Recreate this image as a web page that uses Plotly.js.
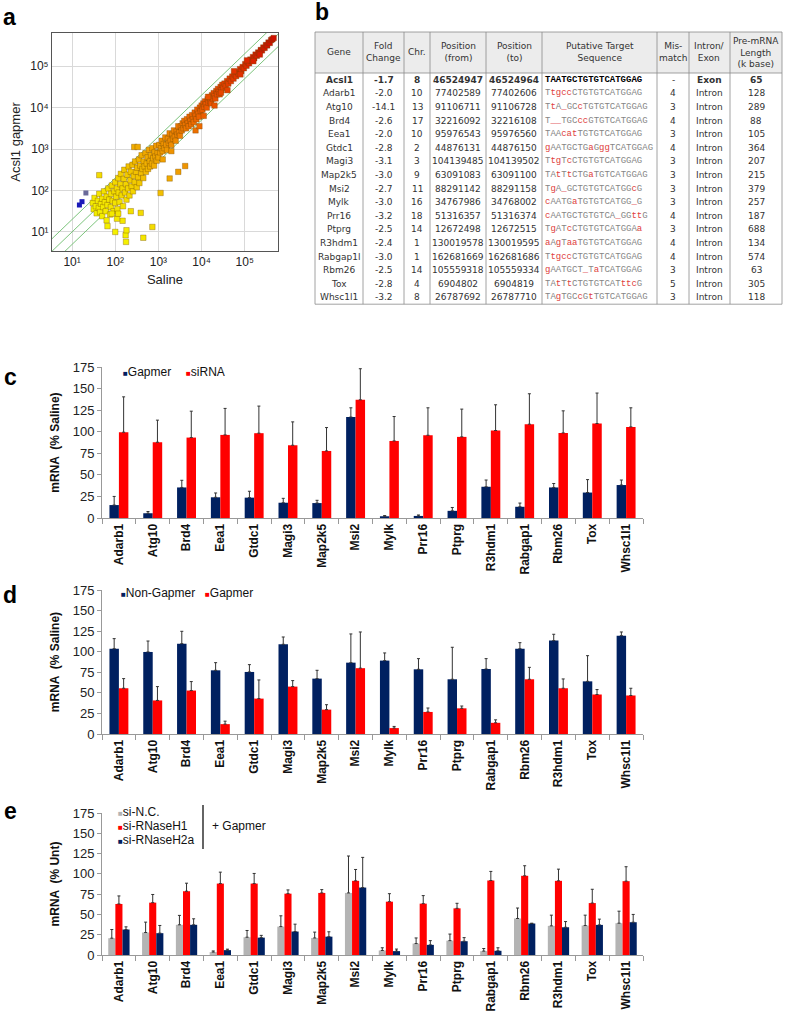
<!DOCTYPE html>
<html><head><meta charset="utf-8">
<script src="https://cdn.plot.ly/plotly-3.0.1.min.js"></script>
<style>html,body{margin:0;padding:0;background:#fff}#chart{width:787px;height:1013px}</style>
</head><body><div id="chart"></div><script>
const W = 787, H = 1013;

// ---------------- Panel a: scatter (log10 intensities) ----------------
const salineLog = [1.48,1.50,1.52,1.55,1.57,1.60,1.62,1.63,1.65,1.67,1.70,1.70,1.72,1.74,1.76,1.78,1.80,1.80,1.82,1.84,1.86,1.88,1.90,1.90,1.92,1.94,1.96,1.98,2.00,2.00,
2.02,2.04,2.05,2.07,2.08,2.10,2.12,2.13,2.15,2.17,2.18,2.20,2.21,2.23,2.25,2.26,2.28,2.30,2.31,2.33,2.35,2.36,2.38,2.40,2.41,2.43,2.45,2.46,2.48,2.50,
2.51,2.53,2.55,2.56,2.58,2.60,2.61,2.63,2.65,2.66,2.68,2.70,2.71,2.73,2.75,2.76,2.78,2.80,2.81,2.83,2.85,2.86,2.88,2.90,2.91,2.93,2.95,2.96,2.98,3.00,
3.02,3.04,3.06,3.08,3.10,3.12,3.14,3.16,3.18,3.20,3.22,3.24,3.26,3.28,3.30,3.32,3.34,3.36,3.38,3.40,3.42,3.44,3.46,3.48,3.50,
3.52,3.54,3.56,3.58,3.60,3.62,3.64,3.66,3.68,3.70,3.72,3.74,3.76,3.78,3.80,3.82,3.84,3.86,3.88,3.90,3.92,3.94,3.96,3.98,4.00,
4.02,4.04,4.06,4.08,4.10,4.12,4.14,4.16,4.18,4.20,4.22,4.24,4.26,4.28,4.30,4.32,4.34,4.36,4.38,4.40,4.42,4.44,4.46,4.48,4.50,
4.53,4.56,4.59,4.62,4.65,4.68,4.71,4.74,4.77,4.80,4.83,4.86,4.89,4.92,4.95,4.98,
5.01,5.04,5.07,5.10,5.13,5.16,5.19,5.22,5.25,5.28,5.31,5.34,5.37,5.40,5.43,5.46,5.49,5.52,5.55,5.58,5.61,5.64,5.67,
3.86,3.95,4.05,4.60,4.30,3.30,3.10,4.75,4.90,5.05,5.20,5.35,4.45,4.15,
2.65,2.86,2.25,2.24,2.00,1.82,2.17,2.59,3.05,3.26,3.46,3.62,1.63,2.44,2.52,1.92,2.04,2.36,2.26,2.07];
const gapmerLog = [1.70,1.55,1.82,1.62,1.45,1.75,1.58,1.92,1.48,1.68,1.80,1.38,1.60,1.98,1.72,1.50,1.85,1.28,1.65,2.05,1.78,1.42,1.92,1.60,2.12,1.75,1.50,1.98,1.70,2.20,
1.85,2.05,1.55,2.30,1.95,1.72,2.15,2.40,1.88,2.05,1.62,2.28,2.50,1.95,2.15,1.78,2.38,2.05,2.58,1.88,2.25,2.45,2.10,2.62,1.98,2.35,2.20,2.70,2.45,2.08,
2.55,2.32,2.75,2.18,2.60,2.42,2.85,2.52,2.30,2.70,2.58,2.90,2.45,2.65,2.80,2.52,2.98,2.70,2.58,2.85,2.65,3.02,2.78,2.60,2.92,2.82,3.08,2.72,2.90,2.80,
3.10,2.92,3.02,3.20,2.95,3.12,3.02,3.28,3.10,2.98,3.25,3.15,3.38,3.20,3.10,3.35,3.25,3.45,3.30,3.20,3.42,3.35,3.55,3.40,3.32,
3.55,3.45,3.62,3.50,3.68,3.58,3.50,3.72,3.62,3.55,3.78,3.68,3.60,3.82,3.72,3.65,3.88,3.80,3.72,3.95,3.85,3.78,4.00,3.92,4.05,
3.95,4.10,4.02,4.15,4.08,4.00,4.20,4.12,4.25,4.15,4.10,4.30,4.22,4.35,4.28,4.22,4.40,4.32,4.45,4.38,4.32,4.50,4.42,4.55,4.48,
4.58,4.52,4.64,4.58,4.70,4.64,4.75,4.70,4.80,4.76,4.86,4.82,4.93,4.88,4.98,4.95,
5.05,5.01,5.10,5.07,5.16,5.13,5.22,5.19,5.28,5.25,5.33,5.32,5.39,5.38,5.45,5.44,5.51,5.50,5.57,5.56,5.63,5.65,5.68,
3.45,3.55,3.80,4.42,4.05,2.95,2.75,4.88,4.80,5.14,5.12,5.28,4.36,4.26,
0.86,1.12,0.76,0.92,1.00,1.14,1.27,1.46,1.94,2.29,2.45,2.59,2.37,3.05,3.05,1.44,1.32,1.50,1.04,1.44];
const lowSalineLog = [1.17, 1.23, 1.32];
const lowGapmerLog = [1.65, 1.73, 1.94];
const lowColors = ['#1a1ab8', '#1a1ab8', '#6a6a9a'];
const foldLines = [0.5, 1, 2];
const tickExps = [1, 2, 3, 4, 5];
const tickLabels = ['10¹', '10²', '10³', '10⁴', '10⁵'];

// ---------------- Panel b: table ----------------
const tGene = ['Acsl1','Adarb1','Atg10','Brd4','Eea1','Gtdc1','Magi3','Map2k5','Msi2','Mylk','Prr16','Ptprg','R3hdm1','Rabgap1l','Rbm26','Tox','Whsc1l1'];
const tFold = ['-1.7','-2.0','-14.1','-2.6','-2.0','-2.8','-3.1','-3.0','-2.7','-3.0','-3.2','-2.5','-2.4','-3.0','-2.5','-2.8','-3.2'];
const tChr = ['8','10','13','17','10','2','3','9','11','16','18','14','1','1','14','4','8'];
const tFrom = ['46524947','77402589','91106711','32216092','95976543','44876131','104139485','63091083','88291142','34767986','51316357','12672498','130019578','162681669','105559318','6904802','26787692'];
const tTo = ['46524964','77402606','91106728','32216108','95976560','44876150','104139502','63091100','88291158','34768002','51316374','12672515','130019595','162681686','105559334','6904819','26787710'];
const tSeq = ['TAATGCTGTGTCATGGAG','TtgccCTGTGTCATGGAG','TtA_GCcTGTGTCATGGAG','T__TGCccGTGTCATGGAG','TAAcatTGTGTCATGGAG','gAATGCTGaGggTCATGGAG','TtgTcCTGTGTCATGGAG','TAtTtCTGaTGTCATGGAG','TgA_GCTGTGTCATGGcG','cAATGaTGTGTCATGG_G','cAATGCTGTGTCA_GGttG','TgATcCTGTGTCATGGAa','aAgTaaTGTGTCATGGAG','TtgccCTGTGTCATGGAG','gAATGCT_TaTCATGGAG','TAtTtCTGTGTCATttcG','TAgTGCcGtTGTCATGGAG'];
const tMis = ['-','4','3','4','3','4','3','3','3','3','4','3','4','4','3','5','3'];
const tRegion = ['Exon','Intron','Intron','Intron','Intron','Intron','Intron','Intron','Intron','Intron','Intron','Intron','Intron','Intron','Intron','Intron','Intron'];
const tLength = ['65','128','289','88','105','364','207','215','379','257','187','688','134','574','63','305','118'];
const tHeaders = ['Gene','Fold<br>Change','Chr.','Position<br>(from)','Position<br>(to)','Putative Target<br>Sequence','Mis-<br>match','Intron/<br>Exon','Pre-mRNA<br>Length<br>(k base)'];

// ---------------- Panel c ----------------
const genesC = ['Adarb1','Atg10','Brd4','Eea1','Gtdc1','Magi3','Map2k5','Msi2','Mylk','Prr16','Ptprg','R3hdm1','Rabgap1','Rbm26','Tox','Whsc1l1'];
const seriesC = ['Gapmer','siRNA'];
const gapmerC = [15,5.5,35.4,24,23.6,17.7,17.3,117,2,2.4,8.3,36.2,13,35.4,29.5,38.2];
const gapmerCErr = [10,2,8.3,5,7.4,5.1,3.2,10.7,0.8,1.1,3.9,7.8,4.3,4.6,15,5.8];
const sirnaC = [99.4,87.8,93.2,96.3,98.3,84.3,77.7,137,89.3,95.9,94,101.4,108.7,98.6,109.5,105.6];
const sirnaCErr = [41,25.6,30.6,30.7,31.4,27.1,27.1,36,28.3,31.8,32.2,29.8,35.3,25.6,35.3,22.1];

// ---------------- Panel d ----------------
const genesD = ['Adarb1','Atg10','Brd4','Eea1','Gtdc1','Magi3','Map2k5','Msi2','Mylk','Prr16','Ptprg','Rabgap1','Rbm26','R3hdm1','Tox','Whsc1l1'];
const seriesD = ['Non-Gapmer','Gapmer'];
const nonGapD = [103.7,99.7,109.8,77.4,75.4,109,67.3,86.7,89.2,78.6,66.5,79,103.7,113.5,64,119.5];
const nonGapDErr = [12.2,13.3,15,9.3,8.9,8.9,10.1,34.9,9.3,13,38.9,12.6,7.3,7.7,31.2,4.5];
const gapD = [55.6,40.8,52.8,12,43,57.6,29.6,80,7.2,26.8,31.2,13.6,66.5,55.6,48,46.8];
const gapDErr = [11.7,16.8,10.9,3.6,22.7,7.3,6,44,2,4.8,2.8,3.6,14.5,11.3,6,8.8];

// ---------------- Panel e ----------------
const genesE = ['Adarb1','Atg10','Brd4','Eea1','Gtdc1','Magi3','Map2k5','Msi2','Mylk','Prr16','Ptprg','Rabgap1','Rbm26','R3hdm1','Tox','Whsc1l1'];
const seriesE = ['si-N.C.','si-RNaseH1','si-RNaseH2a'];
const ncE = [20.7,27.7,37.2,3.6,21.9,35,21,76.5,5.6,14.1,17.7,4.8,45,35.9,36.3,39.2];
const ncEErr = [10.7,12.8,11.6,1.4,8.3,13.3,7.2,45.5,3.3,6.9,8.1,3.2,12.9,13.2,12.8,14.8];
const h1E = [62.9,64.5,78.6,88,88,75.6,76.5,91.4,65.7,63.3,57.5,91.8,97.6,91.4,64,91];
const h1EErr = [9.9,10.1,9.9,14.1,12.5,4.6,4.1,14,9.9,9.9,6.2,11.2,12.4,14.4,17,17.8];
const h2aE = [31.4,26.9,37.2,6,21.4,28.9,22.6,83.1,4.8,12.5,17,5.2,38.8,34.2,37.1,40.4];
const h2aEErr = [3.3,9.5,7.4,1.2,2.8,9.1,6,37.2,2.5,5.2,4.4,3.7,0.4,7,7.1,9.6];

// ---------------- helpers ----------------
const NAVY = '#002060', RED = '#ff0000', GRAY = '#b4b4b4';
const px = v => v / W;
const py = v => 1 - v / H;
const pow10 = a => a.map(v => Math.pow(10, v));
const zeros = a => a.map(() => 0);
const NARROW = 'Liberation Sans Narrow, Arial Narrow, Liberation Sans, Arial, sans-serif';
const ARIAL = 'Liberation Sans, Arial, sans-serif';

const traces = [];
const annotations = [];
const shapes = [];

// ---- Panel a traces ----
foldLines.forEach(k => {
  traces.push({type:'scatter', mode:'lines', x:[1, 1e6], y:[k*1, k*1e6], xaxis:'x', yaxis:'y',
    line:{color:'#7cc47c', width:1}, hoverinfo:'skip', showlegend:false});
});
const meanLog = salineLog.map((v,i) => (v + gapmerLog[i]) / 2);
traces.push({type:'scatter', mode:'markers', x:pow10(salineLog), y:pow10(gapmerLog), xaxis:'x', yaxis:'y',
  marker:{symbol:'square', size:5.5, color:meanLog, cmin:1.5, cmax:5.6,
    colorscale:[[0,'#f4f000'],[0.17,'#f3d400'],[0.34,'#f0a200'],[0.58,'#ec6000'],[0.82,'#e23000'],[1,'#d01000']],
    line:{color:'rgba(110,70,0,0.55)', width:0.6}}, showlegend:false});
traces.push({type:'scatter', mode:'markers', x:pow10(lowSalineLog), y:pow10(lowGapmerLog), xaxis:'x', yaxis:'y',
  marker:{symbol:'square', size:5, color:lowColors, line:{width:0}}, showlegend:false});

// ---- bar panels ----
function barTrace(cats, vals, errs, color, ax, offset, width) {
  return {type:'bar', x:cats, y:vals, xaxis:'x'+ax, yaxis:'y'+ax, offset:offset, width:width,
    marker:{color:color, line:{width:0}}, showlegend:false,
    error_y:{type:'data', symmetric:false, array:errs, arrayminus:zeros(errs), color:'#333', thickness:1, width:1.5}};
}
traces.push(barTrace(genesC, gapmerC, gapmerCErr, NAVY, 2, -0.28, 0.28));
traces.push(barTrace(genesC, sirnaC, sirnaCErr, RED, 2, 0, 0.28));
traces.push(barTrace(genesD, nonGapD, nonGapDErr, NAVY, 3, -0.28, 0.28));
traces.push(barTrace(genesD, gapD, gapDErr, RED, 3, 0, 0.28));
traces.push(barTrace(genesE, ncE, ncEErr, GRAY, 4, -0.315, 0.21));
traces.push(barTrace(genesE, h1E, h1EErr, RED, 4, -0.105, 0.21));
traces.push(barTrace(genesE, h2aE, h2aEErr, NAVY, 4, 0.105, 0.21));

// ---- axes ----
function catX(domain, anchor) {
  return {domain:domain, anchor:anchor, type:'category', range:[-0.5,15.5], showline:true, linecolor:'#999', linewidth:1,
    ticks:'outside', tickson:'boundaries', ticklen:5, tickcolor:'#999', tickangle:-90,
    tickfont:{family:ARIAL, size:12, color:'#111', weight:'bold'}, showgrid:false, zeroline:false, fixedrange:true};
}
function valY(domain, anchor, title) {
  return {domain:domain, anchor:anchor, range:[0,175], dtick:25, tick0:0, showline:true, linecolor:'#999', linewidth:1,
    ticks:'outside', ticklen:4, tickcolor:'#999', showgrid:false, zeroline:false,
    tickfont:{family:NARROW, size:13, color:'#222'},
    title:{text:title, font:{family:ARIAL, size:12, color:'#111', weight:'bold'}, standoff:10}};
}
const xDom = [px(102), px(643)];

const layout = {
  width:W, height:H, margin:{l:0,r:0,t:0,b:0}, paper_bgcolor:'#fff', plot_bgcolor:'#fff',
  showlegend:false, barmode:'overlay',
  font:{family:ARIAL, color:'#222'},
  xaxis:{domain:[px(52),px(278)], anchor:'y', type:'log', range:[0.535,5.77], tickvals:pow10(tickExps),
    ticktext:tickLabels, ticks:'', showgrid:true, gridcolor:'#d9d9d9',
    showline:true, mirror:true, linecolor:'#555', linewidth:1, zeroline:false,
    tickfont:{family:ARIAL, size:12, color:'#222'},
    title:{text:'Saline', font:{family:ARIAL, size:13, color:'#222'}, standoff:6}},
  yaxis:{domain:[py(251),py(33)], anchor:'x', type:'log', range:[0.54,5.8], tickvals:pow10(tickExps),
    ticktext:tickLabels, ticks:'', showgrid:true, gridcolor:'#d9d9d9',
    showline:true, mirror:true, linecolor:'#555', linewidth:1, zeroline:false,
    tickfont:{family:ARIAL, size:12, color:'#222'},
    title:{text:'Acsl1 gapmer', font:{family:ARIAL, size:13, color:'#222'}, standoff:6}},
  xaxis2:catX(xDom, 'y2'), yaxis2:valY([py(518),py(367)], 'x2', 'mRNA  (% Saline)'),
  xaxis3:catX(xDom, 'y3'), yaxis3:valY([py(734),py(590)], 'x3', 'mRNA  (% Saline)'),
  xaxis4:catX(xDom, 'y4'), yaxis4:valY([py(955),py(813)], 'x4', 'mRNA  (% Unt)'),
  annotations:annotations, shapes:shapes
};

// ---- panel letters ----
[['a',9,17],['b',322,12],['c',10,377],['d',10,595],['e',10,811]].forEach(([t,x,y]) => {
  annotations.push({text:'<b>'+t+'</b>', x:px(x), y:py(y), xref:'paper', yref:'paper', showarrow:false,
    xanchor:'center', yanchor:'middle', font:{family:ARIAL, size:23, color:'#000'}});
});

// ---- legends (as text) ----
function legItem(name, color, x, y) {
  annotations.push({text:'<span style="color:'+color+';font-size:8px">■</span>'+name, x:px(x), y:py(y),
    xref:'paper', yref:'paper', showarrow:false, xanchor:'left', yanchor:'middle',
    font:{family:NARROW, size:12, color:'#111'}});
}
legItem(seriesC[0], NAVY, 121, 372); legItem(seriesC[1], RED, 184, 372);
legItem(seriesD[0], NAVY, 119, 593); legItem(seriesD[1], RED, 203, 593);
legItem(seriesE[0], GRAY, 116, 812); legItem(seriesE[1], RED, 116, 826); legItem(seriesE[2], NAVY, 116, 840);
shapes.push({type:'line', xref:'paper', yref:'paper', x0:px(203), x1:px(203), y0:py(805), y1:py(849), line:{color:'#111', width:1.3}});
annotations.push({text:'+ Gapmer', x:px(210), y:py(826), xref:'paper', yref:'paper', showarrow:false,
  xanchor:'left', yanchor:'middle', font:{family:NARROW, size:12, color:'#111'}});

// ---- table (panel b) ----
const colEdges = [315,363,404,430,486,542,657,689,730,782];
const tTop = 32, tHeadBot = 73, rowH = 13.6;
const tBot = tHeadBot + tGene.length * rowH;
shapes.push({type:'rect', xref:'paper', yref:'paper', x0:px(colEdges[0]), x1:px(colEdges[9]), y0:py(tHeadBot), y1:py(tTop),
  fillcolor:'#ececec', line:{width:0}, layer:'below'});
colEdges.forEach(e => shapes.push({type:'line', xref:'paper', yref:'paper', x0:px(e), x1:px(e), y0:py(tBot), y1:py(tTop), line:{color:'#8c8c8c', width:0.8}}));
[tTop, tHeadBot, tBot].forEach(y => shapes.push({type:'line', xref:'paper', yref:'paper', x0:px(colEdges[0]), x1:px(colEdges[9]), y0:py(y), y1:py(y), line:{color:'#8c8c8c', width:0.8}}));
const TFONT = 'DejaVu Sans, Verdana, sans-serif';
const MONO = 'Liberation Mono, Courier New, monospace';
tHeaders.forEach((h,j) => {
  annotations.push({text:h, x:px((colEdges[j]+colEdges[j+1])/2), y:py((tTop+tHeadBot)/2), xref:'paper', yref:'paper',
    showarrow:false, xanchor:'center', yanchor:'middle', align:'center', font:{family:TFONT, size:9, color:'#333'}});
});
const fmtSeq = s => s.replace(/([a-z_]+)/g, '<span style="color:#e0403c">$1</span>');
const cols = [tGene, tFold, tChr, tFrom, tTo, tSeq, tMis, tRegion, tLength];
tGene.forEach((g,i) => {
  const yc = py(tHeadBot + (i + 0.5) * rowH);
  const bold = i === 0;
  cols.forEach((col,j) => {
    let txt = col[i];
    const isSeq = j === 5;
    if (isSeq) txt = bold ? '<b>'+txt+'</b>' : fmtSeq(txt);
    else if (bold && j !== 6) txt = '<b>'+txt+'</b>';
    annotations.push({text:txt, x:isSeq ? px(colEdges[5]+1) : px((colEdges[j]+colEdges[j+1])/2), y:yc,
      xref:'paper', yref:'paper', showarrow:false, xanchor:isSeq ? 'left' : 'center', yanchor:'middle',
      font:{family:isSeq ? MONO : TFONT, size:9, color:isSeq ? (bold ? '#000' : '#858585') : '#333'}});
  });
});

Plotly.newPlot('chart', traces, layout, {staticPlot:true, displayModeBar:false});
</script></body></html>
